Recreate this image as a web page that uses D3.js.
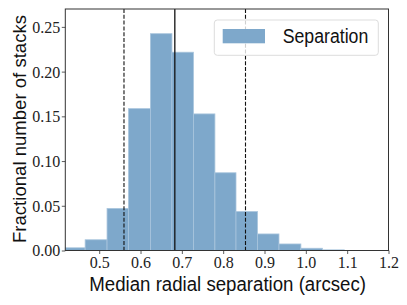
<!DOCTYPE html>
<html>
<head>
<meta charset="utf-8">
<script src="https://cdn.jsdelivr.net/npm/d3@7"></script>
<style>
  body { margin: 0; background: #fff; }
  svg { display: block; }
</style>
</head>
<body>
<div id="chart"></div>
<script>
var width = 407;
var height = 305;

// histogram of median radial separation
var binEdges = [0.418, 0.466, 0.519, 0.571, 0.624, 0.676, 0.728, 0.780, 0.831, 0.883, 0.935, 0.988, 1.040, 1.093];
var fractions = [0.003, 0.012, 0.047, 0.1586, 0.2424, 0.2217, 0.1527, 0.0869, 0.0435, 0.0185, 0.0073, 0.0025, 0.0007];
var medianLine = 0.683;
var dashedLines = [0.560, 0.854];
var xTicks = [0.5, 0.6, 0.7, 0.8, 0.9, 1.0, 1.1, 1.2];
var yTicks = [0.00, 0.05, 0.10, 0.15, 0.20, 0.25];

var margin = {top: 9, right: 18.5, bottom: 54.5, left: 65.3};
var plotW = width - margin.left - margin.right;
var plotH = height - margin.top - margin.bottom;

var svg = d3.select("#chart")
  .append("svg")
  .attr("width", width)
  .attr("height", height);

var g = svg.append("g")
  .attr("transform", "translate(" + margin.left + "," + margin.top + ")");

var x = d3.scaleLinear().domain([0.418, 1.2]).range([0, plotW]);
var y = d3.scaleLinear().domain([0, 0.27]).range([plotH, 0]);

var bins = fractions.map(function(v, i) {
  return {x0: binEdges[i], x1: binEdges[i + 1], v: v};
});

g.selectAll("rect.bar")
  .data(bins)
  .enter()
  .append("rect")
  .attr("class", "bar")
  .attr("x", function(d) { return x(d.x0); })
  .attr("y", function(d) { return y(d.v); })
  .attr("width", function(d) { return x(d.x1) - x(d.x0); })
  .attr("height", function(d) { return y(0) - y(d.v); })
  .attr("fill", "#7ea8cb")
  .attr("stroke", "#a9c5dd")
  .attr("stroke-width", 0.8);

// vertical lines
g.append("line")
  .attr("x1", x(medianLine)).attr("x2", x(medianLine))
  .attr("y1", 0).attr("y2", plotH)
  .attr("stroke", "#111").attr("stroke-width", 1.3);

g.selectAll("line.dash")
  .data(dashedLines)
  .enter()
  .append("line")
  .attr("class", "dash")
  .attr("x1", function(d) { return x(d); }).attr("x2", function(d) { return x(d); })
  .attr("y1", 0).attr("y2", plotH)
  .attr("stroke", "#111").attr("stroke-width", 1.1)
  .attr("stroke-dasharray", "4,1.8");

// axes
var xAxis = d3.axisBottom(x).tickValues(xTicks).tickFormat(d3.format(".1f")).tickSize(3.5).tickSizeOuter(0);
var yAxis = d3.axisLeft(y).tickValues(yTicks).tickFormat(d3.format(".2f")).tickSize(3.5).tickSizeOuter(0);

var gx = g.append("g").attr("transform", "translate(0," + plotH + ")").call(xAxis);
var gy = g.append("g").call(yAxis);

[gx, gy].forEach(function(a) {
  a.select(".domain").remove();
  a.selectAll(".tick line").attr("stroke", "#333").attr("stroke-width", 0.8);
  a.selectAll(".tick text")
    .attr("fill", "#222")
    .style("font-family", "'Liberation Serif', serif")
    .style("font-size", "16px");
});
gy.selectAll(".tick text").attr("x", -5).attr("dy", "0.34em");

// frame
g.append("rect")
  .attr("x", 0).attr("y", 0)
  .attr("width", plotW).attr("height", plotH)
  .attr("fill", "none")
  .attr("stroke", "#333")
  .attr("stroke-width", 1);

// legend
var legend = g.append("g");
legend.append("rect")
  .attr("x", 214.3 - margin.left).attr("y", 20 - margin.top)
  .attr("width", 164).attr("height", 35.3)
  .attr("rx", 3)
  .attr("fill", "#fff").attr("fill-opacity", 0.8)
  .attr("stroke", "#ddd").attr("stroke-width", 1);
legend.append("rect")
  .attr("x", 222.7 - margin.left).attr("y", 29 - margin.top)
  .attr("width", 42.3).attr("height", 14.3)
  .attr("fill", "#7ea8cb");
legend.append("text")
  .attr("x", 282.7 - margin.left).attr("y", 43.3 - margin.top)
  .attr("textLength", 85.6).attr("lengthAdjust", "spacingAndGlyphs")
  .style("font-family", "'Liberation Sans', sans-serif")
  .style("font-size", "20px")
  .attr("fill", "#111")
  .text("Separation");

// axis labels
svg.append("text")
  .attr("x", 89.3).attr("y", 291)
  .attr("textLength", 276.7).attr("lengthAdjust", "spacingAndGlyphs")
  .style("font-family", "'Liberation Sans', sans-serif")
  .style("font-size", "20px")
  .attr("fill", "#111")
  .text("Median radial separation (arcsec)");

svg.append("text")
  .attr("transform", "translate(26,243) rotate(-90)")
  .attr("textLength", 228).attr("lengthAdjust", "spacingAndGlyphs")
  .style("font-family", "'Liberation Sans', sans-serif")
  .style("font-size", "19px")
  .attr("fill", "#111")
  .text("Fractional number of stacks");
</script>
</body>
</html>
